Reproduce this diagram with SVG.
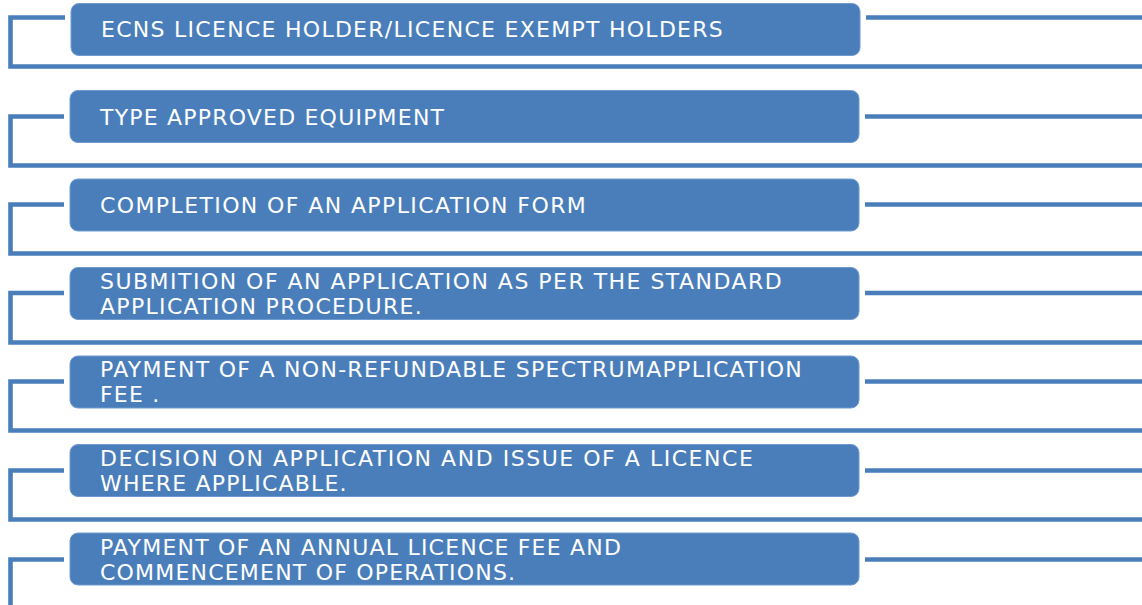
<svg xmlns="http://www.w3.org/2000/svg" width="1142" height="605" viewBox="0 0 1142 605">
<style>
.box{fill:#4a7ebb;stroke:#6f9bd1;stroke-width:1}
.lbl{font-family:"DejaVu Sans","Verdana",sans-serif;font-size:22px;fill:#ffffff;letter-spacing:1.2px}
.ln{fill:none;stroke:#4a7ebb;stroke-width:4.6}
</style>
<rect width="1142" height="605" fill="#ffffff"/>
<g id="connectors">
<path class="ln" d="M65 17.5H10.5V66.5H1142"/>
<path class="ln" d="M866 17.5H1142"/>
<path class="ln" d="M64 116.5H10.5V165.5H1142"/>
<path class="ln" d="M865 116.5H1142"/>
<path class="ln" d="M64 204.5H10.5V253.5H1142"/>
<path class="ln" d="M865 204.5H1142"/>
<path class="ln" d="M64 293H10.5V342.5H1142"/>
<path class="ln" d="M865 293H1142"/>
<path class="ln" d="M64 381.5H10.5V430.5H1142"/>
<path class="ln" d="M865 381.5H1142"/>
<path class="ln" d="M64 470.5H10.5V519.5H1142"/>
<path class="ln" d="M865 470.5H1142"/>
<path class="ln" d="M64 559.5H10.5V606"/>
<path class="ln" d="M865 559.5H1142"/>
</g>
<g id="node1"><rect class="box" x="71" y="3.5" width="789" height="52" rx="8"/><text class="lbl" x="101" y="36.7" textLength="623" lengthAdjust="spacing">ECNS LICENCE HOLDER/LICENCE EXEMPT HOLDERS</text></g>
<g id="node2"><rect class="box" x="70" y="90.5" width="789" height="52" rx="8"/><text class="lbl" x="100" y="124.5">TYPE APPROVED EQUIPMENT</text></g>
<g id="node3"><rect class="box" x="70" y="179" width="789" height="52" rx="8"/><text class="lbl" x="100" y="213" textLength="487" lengthAdjust="spacing">COMPLETION OF AN APPLICATION FORM</text></g>
<g id="node4"><rect class="box" x="70" y="267.5" width="789" height="52" rx="8"/><text class="lbl" x="100" y="288.5" textLength="683" lengthAdjust="spacing">SUBMITION OF AN APPLICATION AS PER THE STANDARD</text><text class="lbl" x="100" y="313.5" textLength="323" lengthAdjust="spacing">APPLICATION PROCEDURE.</text></g>
<g id="node5"><rect class="box" x="70" y="356" width="789" height="52" rx="8"/><text class="lbl" x="100" y="376.7" textLength="703" lengthAdjust="spacing">PAYMENT OF A NON-REFUNDABLE SPECTRUMAPPLICATION</text><text class="lbl" x="100" y="401.7">FEE .</text></g>
<g id="node6"><rect class="box" x="70" y="444.5" width="789" height="52" rx="8"/><text class="lbl" x="100" y="465.5" textLength="654" lengthAdjust="spacing">DECISION ON APPLICATION AND ISSUE OF A LICENCE</text><text class="lbl" x="100" y="490.5">WHERE APPLICABLE.</text></g>
<g id="node7"><rect class="box" x="70" y="533" width="789" height="52" rx="8"/><text class="lbl" x="100" y="554.5">PAYMENT OF AN ANNUAL LICENCE FEE AND</text><text class="lbl" x="100" y="579.5">COMMENCEMENT OF OPERATIONS.</text></g>
</svg>
